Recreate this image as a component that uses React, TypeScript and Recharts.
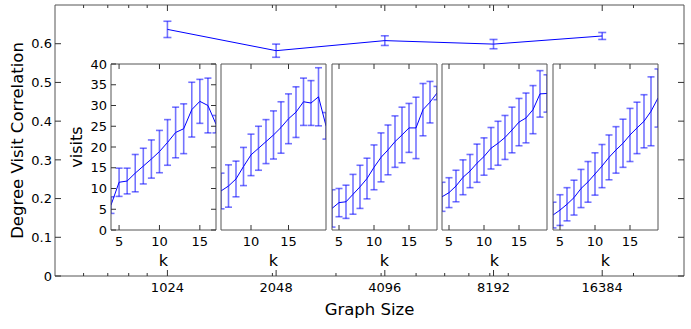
import React from "react";
import * as RC from "recharts";
import { LineChart, Line, XAxis, YAxis, ErrorBar, Label } from "recharts";

// ---------- main chart data ----------
const graphSizes = [1024, 2048, 4096, 8192, 16384];
const corrValues = [0.637, 0.582, 0.608, 0.599, 0.62];
const corrErrors = [0.021, 0.017, 0.0125, 0.012, 0.009];
const corrTicks = [0, 0.1, 0.2, 0.3, 0.4, 0.5, 0.6];
const sizeMinorTicks = [600, 700, 800, 900, 2000, 3000, 4000, 5000, 6000, 7000, 8000, 9000, 20000];

// ---------- inset data (visits vs k) ----------
const k1024 = [4, 5, 6, 7, 8, 9, 10, 11, 12, 13, 14, 15, 16, 17];
const visits1024 = [6.0, 11.5, 11.8, 13.7, 15.4, 17.1, 18.9, 21.1, 23.5, 24.4, 29.0, 31.0, 30.0, 25.5];
const err1024 = [2.0, 3.4, 3.1, 4.5, 4.3, 4.6, 5.1, 5.5, 6.1, 6.0, 6.6, 5.3, 6.6, 2.1];

const k2048 = [6, 7, 8, 9, 10, 11, 12, 13, 14, 15, 16, 17, 18, 19, 20];
const visits2048 = [9.4, 10.6, 12.3, 15.3, 18.1, 19.7, 21.3, 22.9, 24.7, 26.8, 28.4, 30.9, 30.6, 32.1, 25.1];
const err2048 = [4.3, 5.1, 4.3, 4.6, 5.0, 5.3, 5.3, 5.8, 6.2, 6.0, 6.1, 5.7, 5.4, 7.0, 3.2];

const k4096 = [4, 5, 6, 7, 8, 9, 10, 11, 12, 13, 14, 15, 16, 17, 18, 19];
const visits4096 = [5.2, 6.6, 6.8, 8.6, 10.4, 12.4, 15.1, 17.5, 19.3, 21.3, 22.9, 24.6, 24.6, 29.0, 30.8, 33.0];
const err4096 = [4.5, 3.4, 4.0, 4.8, 5.2, 4.9, 5.4, 5.9, 6.0, 6.2, 6.7, 5.9, 7.4, 6.3, 5.0, 1.6];

const k8192 = [4, 5, 6, 7, 8, 9, 10, 11, 12, 13, 14, 15, 16, 17, 18, 19];
const visits8192 = [8.0, 9.0, 10.6, 12.7, 14.2, 16.1, 17.7, 19.7, 20.9, 22.3, 24.1, 26.0, 27.0, 29.0, 32.8, 32.9];
const err8192 = [3.5, 3.6, 3.8, 4.2, 4.0, 4.6, 4.5, 5.0, 5.3, 5.3, 5.5, 5.7, 6.0, 5.8, 5.6, 4.5];

const k16384 = [4, 5, 6, 7, 8, 9, 10, 11, 12, 13, 14, 15, 16, 17, 18, 19];
const visits16384 = [3.6, 4.8, 6.2, 7.8, 10.0, 11.6, 13.5, 15.4, 17.5, 19.3, 20.9, 22.9, 24.6, 26.2, 28.6, 31.8];
const err16384 = [3.1, 3.7, 4.0, 4.2, 4.6, 4.9, 5.1, 5.2, 5.4, 5.6, 5.8, 6.4, 6.2, 6.4, 8.3, 7.0];

const kDomains: [number, number][] = [[4, 17], [6, 20], [4, 19], [4, 19], [4, 19]];
const kTicks = [5, 10, 15];
const visitTicks = [0, 5, 10, 15, 20, 25, 30, 35, 40];

// ---------- styling ----------
const FRAME = "#555";
const TICK = "#333";
const BLUE = "#0000ff";
const FONT = "DejaVu Sans, sans-serif";

const usePlotAreaSafe: () => any = (RC as any).usePlotArea || (() => null);

// clip region taken from the chart's own plot area
const PlotClip = ({ id }: { id: string }) => {
  const pa = usePlotAreaSafe();
  if (!pa) return null;
  return (
    <defs>
      <clipPath id={id}>
        <rect x={pa.x} y={pa.y} width={pa.width} height={pa.height} />
      </clipPath>
    </defs>
  );
};

const MainBottomTick = (p: any) => {
  const major = graphSizes.includes(p.payload.value);
  return (
    <g>
      <line x1={p.x} x2={p.x} y1={p.y} y2={p.y - (major ? 6 : 3)} stroke={TICK} strokeWidth={1} />
      {major && (
        <text x={p.x} y={p.y + 15.5} textAnchor="middle" fontSize={13} fontFamily={FONT} fill="#000">
          {p.payload.value}
        </text>
      )}
    </g>
  );
};
const MainTopTick = (p: any) => {
  const major = graphSizes.includes(p.payload.value);
  return <line x1={p.x} x2={p.x} y1={p.y} y2={p.y + (major ? 6 : 3)} stroke={TICK} strokeWidth={1} />;
};
const MainLeftTick = (p: any) => (
  <g>
    <line x1={p.x} x2={p.x + 6} y1={p.y} y2={p.y} stroke={TICK} strokeWidth={1} />
    <text x={p.x - 3} y={p.y + 4.7} textAnchor="end" fontSize={13} fontFamily={FONT} fill="#000">
      {p.payload.value}
    </text>
  </g>
);
const MainRightTick = (p: any) => <line x1={p.x} x2={p.x - 6} y1={p.y} y2={p.y} stroke={TICK} strokeWidth={1} />;

const InsetBottomTick = (p: any) => (
  <g>
    <line x1={p.x} x2={p.x} y1={p.y} y2={p.y - 5} stroke={TICK} strokeWidth={1} />
    <text x={p.x} y={p.y + 15.7} textAnchor="middle" fontSize={13} fontFamily={FONT} fill="#000">
      {p.payload.value}
    </text>
  </g>
);
const InsetTopTick = (p: any) => <line x1={p.x} x2={p.x} y1={p.y} y2={p.y + 5} stroke={TICK} strokeWidth={1} />;
const InsetLeftTick = (p: any) => (
  <g>
    <line x1={p.x} x2={p.x + 5} y1={p.y} y2={p.y} stroke={TICK} strokeWidth={1} />
    <text x={p.x - 4} y={p.y + 4.7} textAnchor="end" fontSize={13} fontFamily={FONT} fill="#000">
      {p.payload.value}
    </text>
  </g>
);
const InsetRightTick = (p: any) => <line x1={p.x} x2={p.x - 5} y1={p.y} y2={p.y} stroke={TICK} strokeWidth={1} />;

type InsetProps = {
  idx: number;
  ks: number[];
  visits: number[];
  errs: number[];
};

const INSET_LEFT0 = 111;
const INSET_STEP = 110.4;
const INSET_W = 105;
const INSET_H = 166;
const INSET_TOP = 64;
const INSET_PAD_TOP = 12;
const INSET_PAD_RIGHT = 4;

function Inset({ idx, ks, visits, errs }: InsetProps) {
  const data = ks.map((k, i) => ({ k, v: visits[i], e: errs[i] }));
  const showY = idx === 0;
  const yw = showY ? 48 : 1;
  const left = INSET_LEFT0 + idx * INSET_STEP;
  const domain = kDomains[idx];
  const ticks = kTicks.filter((t) => t >= domain[0] && t <= domain[1]);
  const clipId = `inset-clip-${idx}`;
  return (
    <div style={{ position: "absolute", left: left - yw, top: INSET_TOP - INSET_PAD_TOP }}>
      <LineChart
        width={yw + INSET_W + 1 + INSET_PAD_RIGHT}
        height={INSET_PAD_TOP + INSET_H + 50}
        data={data}
        margin={{ top: INSET_PAD_TOP - 1, right: INSET_PAD_RIGHT, left: 0, bottom: 0 }}
      >
        <PlotClip id={clipId} />
        <XAxis
          dataKey="k"
          type="number"
          domain={domain}
          allowDataOverflow
          ticks={ticks}
          interval={0}
          height={50}
          tickSize={0}
          tickMargin={0}
          tickLine={false}
          axisLine={{ stroke: FRAME }}
          tick={InsetBottomTick}
        >
          <Label
            content={(lp: any) => (
              <text
                x={lp.viewBox.x + lp.viewBox.width / 2}
                y={lp.viewBox.y + 36}
                textAnchor="middle"
                fontSize={16}
                fontFamily={FONT}
                fill="#000"
              >
                k
              </text>
            )}
          />
        </XAxis>
        <XAxis
          xAxisId="top"
          dataKey="k"
          orientation="top"
          type="number"
          domain={domain}
          allowDataOverflow
          ticks={ticks}
          interval={0}
          height={1}
          tickSize={0}
          tickMargin={0}
          tickLine={false}
          axisLine={{ stroke: FRAME }}
          tick={InsetTopTick}
        />
        <YAxis
          type="number"
          domain={[0, 40]}
          allowDataOverflow
          ticks={visitTicks}
          interval={0}
          width={yw}
          tickSize={0}
          tickMargin={0}
          tickLine={false}
          axisLine={{ stroke: FRAME }}
          tick={showY ? InsetLeftTick : false}
        >
          {showY && (
            <Label
              content={(lp: any) => (
                <text
                  transform={`translate(${lp.viewBox.x + 19}, ${lp.viewBox.y + lp.viewBox.height / 2}) rotate(-90)`}
                  textAnchor="middle"
                  fontSize={16}
                  fontFamily={FONT}
                  fill="#000"
                >
                  visits
                </text>
              )}
            />
          )}
        </YAxis>
        <YAxis
          yAxisId="r"
          orientation="right"
          type="number"
          domain={[0, 40]}
          allowDataOverflow
          ticks={visitTicks}
          interval={0}
          width={1}
          tickSize={0}
          tickMargin={0}
          tickLine={false}
          axisLine={{ stroke: FRAME }}
          tick={showY ? InsetRightTick : false}
        />
        <Line
          xAxisId="top"
          yAxisId="r"
          dataKey="v"
          stroke="none"
          dot={false}
          activeDot={false}
          legendType="none"
          isAnimationActive={false}
        />
        <Line dataKey="v" type="linear" stroke={BLUE} strokeWidth={1} dot={false} isAnimationActive={false}>
          <ErrorBar
            dataKey="e"
            width={3.5}
            stroke={BLUE}
            strokeOpacity={0.55}
            strokeWidth={1.6}
            clipPath={`url(#${clipId})`}
          />
        </Line>
      </LineChart>
    </div>
  );
}

export default function App() {
  const mainData = graphSizes.map((s, i) => ({ size: s, corr: corrValues[i], err: corrErrors[i] }));
  const sizeTicks = [...graphSizes, ...sizeMinorTicks];
  return (
    <div style={{ position: "absolute", left: 0, top: 0, width: 691, height: 329, background: "#fff" }}>
      <LineChart width={691} height={329} data={mainData} margin={{ top: 4, right: 6, bottom: 0, left: 0 }}>
        <XAxis
          dataKey="size"
          type="number"
          scale="log"
          domain={[500, 27600]}
          allowDataOverflow
          ticks={sizeTicks}
          interval={0}
          height={53}
          tickSize={0}
          tickMargin={0}
          tickLine={false}
          axisLine={{ stroke: FRAME }}
          tick={MainBottomTick}
        >
          <Label
            content={(lp: any) => (
              <text
                x={lp.viewBox.x + lp.viewBox.width / 2}
                y={lp.viewBox.y + 39}
                textAnchor="middle"
                fontSize={16.5}
                fontFamily={FONT}
                fill="#000"
              >
                Graph Size
              </text>
            )}
          />
        </XAxis>
        <XAxis
          xAxisId="top"
          dataKey="size"
          orientation="top"
          type="number"
          scale="log"
          domain={[500, 27600]}
          allowDataOverflow
          ticks={sizeTicks}
          interval={0}
          height={1}
          tickSize={0}
          tickMargin={0}
          tickLine={false}
          axisLine={{ stroke: FRAME }}
          tick={MainTopTick}
        />
        <YAxis
          type="number"
          domain={[0, 0.7]}
          allowDataOverflow
          ticks={corrTicks}
          interval={0}
          width={55}
          tickSize={0}
          tickMargin={0}
          tickLine={false}
          axisLine={{ stroke: FRAME }}
          tick={MainLeftTick}
        >
          <Label
            content={(lp: any) => (
              <text
                transform={`translate(23, ${lp.viewBox.y + lp.viewBox.height / 2}) rotate(-90)`}
                textAnchor="middle"
                fontSize={16.5}
                fontFamily={FONT}
                fill="#000"
              >
                Degree Visit Correlation
              </text>
            )}
          />
        </YAxis>
        <YAxis
          yAxisId="right"
          orientation="right"
          type="number"
          domain={[0, 0.7]}
          allowDataOverflow
          ticks={corrTicks}
          interval={0}
          width={1}
          tickSize={0}
          tickMargin={0}
          tickLine={false}
          axisLine={{ stroke: FRAME }}
          tick={MainRightTick}
        />
        <Line
          xAxisId="top"
          yAxisId="right"
          dataKey="corr"
          stroke="none"
          dot={false}
          activeDot={false}
          legendType="none"
          isAnimationActive={false}
        />
        <Line dataKey="corr" type="linear" stroke={BLUE} strokeWidth={1} dot={false} isAnimationActive={false}>
          <ErrorBar dataKey="err" width={4} stroke={BLUE} strokeOpacity={0.55} strokeWidth={1.6} />
        </Line>
      </LineChart>
      <Inset idx={0} ks={k1024} visits={visits1024} errs={err1024} />
      <Inset idx={1} ks={k2048} visits={visits2048} errs={err2048} />
      <Inset idx={2} ks={k4096} visits={visits4096} errs={err4096} />
      <Inset idx={3} ks={k8192} visits={visits8192} errs={err8192} />
      <Inset idx={4} ks={k16384} visits={visits16384} errs={err16384} />
    </div>
  );
}
